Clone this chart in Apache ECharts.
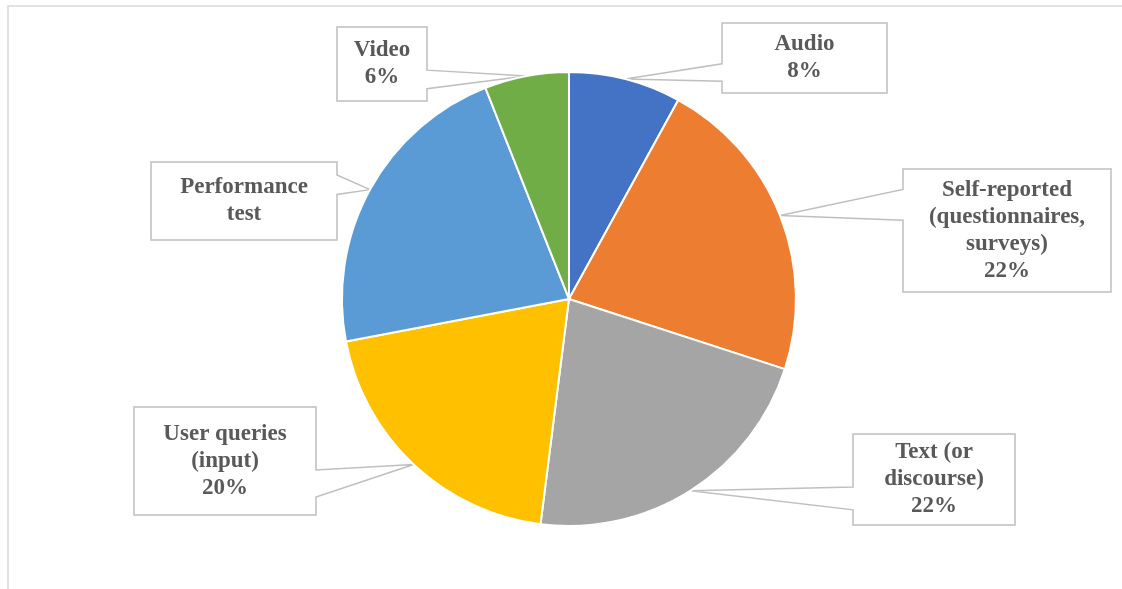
<!DOCTYPE html>
<html>
<head>
<meta charset="utf-8">
<script src="https://cdn.jsdelivr.net/npm/echarts@6/dist/echarts.min.js"></script>
<style>
html,body{margin:0;padding:0;background:#fff;}
#chart{width:1122px;height:589px;}
</style>
</head>
<body>
<div id="chart"></div>
<script>
// ---- data ----
var categories = ['Audio', 'Self-reported\n(questionnaires,\nsurveys)', 'Text (or\ndiscourse)', 'User queries\n(input)', 'Performance\ntest', 'Video'];
var values = [8, 22, 22, 20, 22, 6];
var showPercent = [true, true, true, true, false, true];
var colors = ['#4472C4', '#ED7D31', '#A5A5A5', '#FFC000', '#5B9BD5', '#70AD47'];

// ---- callout box layout (left, top, width, height) ----
var boxes = [
  [722, 23, 165, 70],
  [903, 169, 208, 123],
  [853, 434, 162, 91],
  [134, 407, 182, 108],
  [151, 162, 186, 78],
  [337, 27, 90, 74]
];
var LINE_H = 27;

var chart = echarts.init(document.getElementById('chart'), null, {renderer: 'canvas'});
var cxPct = '50.71%', cyPct = '50.76%', R = 227;

function labelText(i) {
  return showPercent[i] ? categories[i] + '\n' + values[i] + '%' : categories[i];
}

var data = categories.map(function (name, i) {
  var nLines = labelText(i).split('\n').length;
  var b = boxes[i];
  var pv = Math.max(0, (b[3] - nLines * LINE_H) / 2);
  return {
    name: name,
    value: values[i],
    itemStyle: {color: colors[i]},
    label: {width: b[2], padding: [pv, 0, pv, 0]}
  };
});

chart.setOption({
  backgroundColor: '#ffffff',
  animation: false,
  graphic: [{
    type: 'rect',
    shape: {x: 8, y: 6, width: 1300, height: 800},
    style: {fill: 'none', stroke: '#d9d9d9', lineWidth: 1.5},
    silent: true, z: -10
  }],
  series: [{
    type: 'pie',
    center: [cxPct, cyPct],
    radius: [0, R],
    startAngle: 90,
    clockwise: true,
    avoidLabelOverlap: false,
    itemStyle: {borderColor: '#ffffff', borderWidth: 2},
    label: {
      show: true,
      position: 'outside',
      formatter: function (p) { return labelText(p.dataIndex); },
      fontFamily: 'Liberation Serif',
      fontWeight: 'bold',
      fontSize: 23,
      lineHeight: LINE_H,
      color: '#595959',
      align: 'center',
      overflow: 'none'
    },
    labelLine: {
      show: true,
      length: 20,
      length2: 20,
      lineStyle: {color: '#bfbfbf', width: 1.5}
    },
    emphasis: {disabled: true},
    labelLayout: function (params) {
      var i = params.dataIndex;
      var b = boxes[i];
      var L = b[0], T = b[1], W = b[2], H = b[3];
      var tip = params.labelLinePoints ? params.labelLinePoints[0] : null;
      if (!tip) {
        return {x: L + W / 2, y: T, align: 'center', verticalAlign: 'top'};
      }
      var lower = tip[1] > T + H / 2;
      var ya = T + H * (lower ? 7 / 12 : 2 / 12);
      var yb = T + H * (lower ? 10 / 12 : 5 / 12);
      var pts;
      var pieCx = chart.getWidth() * 0.5071;
      if (L + W / 2 > pieCx) {
        pts = [[tip[0], tip[1]], [L, ya], [L, T], [L + W, T], [L + W, T + H], [L, T + H], [L, yb], [tip[0], tip[1]]];
      } else {
        var Rr = L + W;
        pts = [[tip[0], tip[1]], [Rr, ya], [Rr, T], [L, T], [L, T + H], [Rr, T + H], [Rr, yb], [tip[0], tip[1]]];
      }
      return {
        x: L + W / 2,
        y: T,
        align: 'center',
        verticalAlign: 'top',
        labelLinePoints: pts
      };
    },
    data: data
  }]
});
</script>
</body>
</html>
